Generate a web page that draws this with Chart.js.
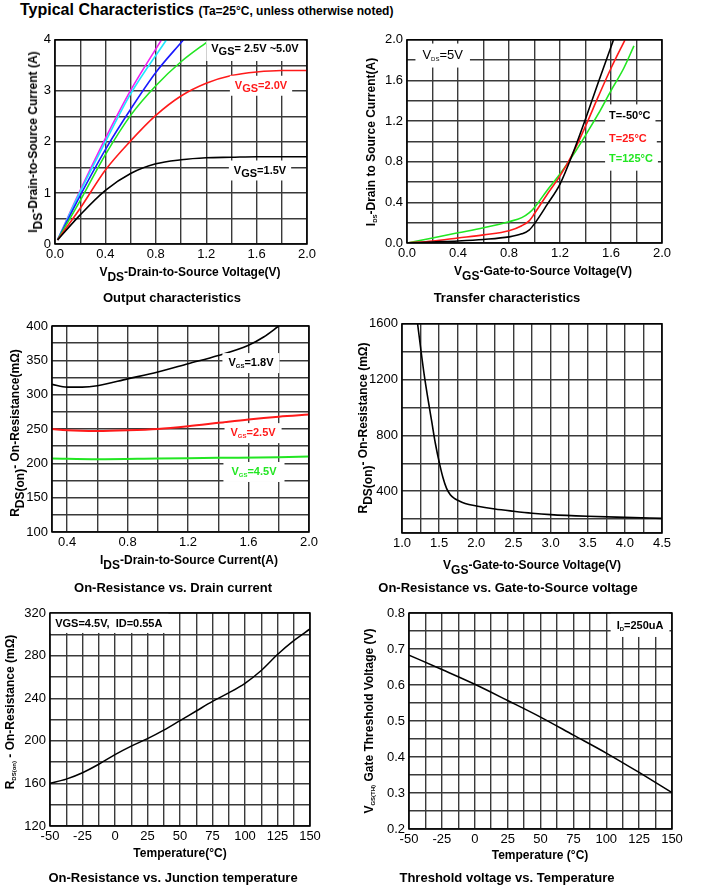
<!DOCTYPE html>
<html>
<head>
<meta charset="utf-8">
<script src="https://cdn.jsdelivr.net/npm/chart.js@4.4.1/dist/chart.umd.min.js"></script>
<style>
  body { margin: 0; background: #fff; width: 716px; height: 895px; position: relative; overflow: hidden;
         font-family: 'Liberation Sans', Arial, Helvetica, sans-serif; font-weight: bold; color: #000; }
  canvas { position: absolute; }
  .t { position: absolute; white-space: nowrap; transform: translate(-50%, -50%); font-size: 12px; line-height: 14px; }
  .cap { font-size: 13px; }
  .r { transform: translate(-50%, -50%) rotate(-90deg); }
  .L { font-size: 1em; vertical-align: -0.4em; line-height: 0; }
  .S { font-size: 0.5em; vertical-align: -0.3em; line-height: 0; }
  #head { position: absolute; left: 20px; top: 0; font-size: 16px; line-height: 19px; white-space: nowrap; }
  #head span { font-size: 12px; }
</style>
</head>
<body>
<div id="head">Typical Characteristics <span>(Ta=25°C, unless otherwise noted)</span></div>

<canvas id="c1"></canvas>
<canvas id="c2"></canvas>
<canvas id="c3"></canvas>
<canvas id="c4"></canvas>
<canvas id="c5"></canvas>
<canvas id="c6"></canvas>

<!-- axis titles and captions -->
<div class="t" style="left:190px;top:272px">V<span class="L">DS</span>-Drain-to-Source Voltage(V)</div>
<div class="t r" style="left:33px;top:142px">I<span class="L">DS</span>-Drain-to-Source Current (A)</div>
<div class="t cap" style="left:172px;top:298px">Output characteristics</div>

<div class="t" style="left:543px;top:271px">V<span class="L">GS</span>-Gate-to-Source Voltage(V)</div>
<div class="t r" style="left:371px;top:142px">I<span class="S">DS</span>-Drain to Source Current(A)</div>
<div class="t cap" style="left:507px;top:298px">Transfer characteristics</div>

<div class="t" style="left:189px;top:560px">I<span class="L">DS</span>-Drain-to-Source Current(A)</div>
<div class="t r" style="left:15px;top:433px">R<span class="L">DS(on)</span>- On-Resistance(mΩ)</div>
<div class="t cap" style="left:173px;top:588px">On-Resistance vs. Drain current</div>

<div class="t" style="left:532px;top:565px">V<span class="L">GS</span>-Gate-to-Source Voltage(V)</div>
<div class="t r" style="left:363px;top:428px">R<span class="L">DS(on)</span>- On-Resistance (mΩ)</div>
<div class="t cap" style="left:508px;top:588px">On-Resistance vs. Gate-to-Source voltage</div>

<div class="t" style="left:180px;top:853px">Temperature(°C)</div>
<div class="t r" style="left:10px;top:712px">R<span class="S">DS(on)</span> - On-Resistance (mΩ)</div>
<div class="t cap" style="left:173px;top:878px">On-Resistance vs. Junction temperature</div>

<div class="t" style="left:540px;top:855px">Temperature (°C)</div>
<div class="t r" style="left:369px;top:721px">V<span class="S">GS(TH)</span> Gate Threshold Voltage (V)</div>
<div class="t cap" style="left:507px;top:878px">Threshold voltage vs. Temperature</div>

<script>
// Output characteristics (ID vs VDS)
const outX15 = [0.02, 0.2, 0.4, 0.6, 0.8, 1.0, 1.2, 1.4, 1.6, 2.0];
const outY15 = [0.08, 0.57, 1.05, 1.38, 1.57, 1.65, 1.69, 1.70, 1.71, 1.71];
const outX20 = [0.02, 0.2, 0.4, 0.6, 0.8, 1.0, 1.2, 1.4, 1.6, 1.8, 2.0];
const outY20 = [0.08, 0.70, 1.45, 2.02, 2.52, 2.90, 3.15, 3.30, 3.37, 3.40, 3.40];
const outX25 = [0.02, 0.2, 0.4, 0.6, 0.8, 1.0, 1.23];
const outY25 = [0.08, 0.85, 1.75, 2.52, 3.10, 3.57, 4.0];
const outX30 = [0.02, 0.2, 0.4, 0.6, 0.8, 1.02];
const outY30 = [0.08, 0.95, 1.85, 2.64, 3.36, 4.0];
const outX40 = [0.02, 0.2, 0.4, 0.6, 0.885];
const outY40 = [0.08, 1.02, 2.0, 2.94, 4.0];
const outX50 = [0.02, 0.2, 0.4, 0.6, 0.845];
const outY50 = [0.08, 1.05, 2.07, 3.01, 4.0];
const outXTicks = [0, 0.2, 0.4, 0.6, 0.8, 1.0, 1.2, 1.4, 1.6, 1.8, 2.0];
const outXText  = ['0.0', '', '0.4', '', '0.8', '', '1.2', '', '1.6', '', '2.0'];
const outYTicks = [0, 0.5, 1, 1.5, 2, 2.5, 3, 3.5, 4];
const outYText  = ['0', '', '1', '', '2', '', '3', '', '4'];

// Transfer characteristics (ID vs VGS)
const trXm50 = [0, 0.2, 0.4, 0.6, 0.8, 0.9, 0.96, 1.0, 1.1, 1.2, 1.3, 1.4, 1.5, 1.62];
const trYm50 = [0, 0.01, 0.02, 0.035, 0.06, 0.09, 0.13, 0.19, 0.38, 0.58, 0.88, 1.22, 1.58, 2.0];
const trX25  = [0, 0.2, 0.4, 0.6, 0.8, 0.9, 0.96, 1.0, 1.1, 1.2, 1.3, 1.4, 1.5, 1.6, 1.71];
const trY25  = [0, 0.02, 0.05, 0.08, 0.12, 0.17, 0.22, 0.29, 0.48, 0.66, 0.88, 1.15, 1.44, 1.72, 2.0];
const trX125 = [0, 0.2, 0.4, 0.6, 0.8, 0.9, 0.96, 1.0, 1.1, 1.2, 1.3, 1.4, 1.5, 1.6, 1.7, 1.78];
const trY125 = [0, 0.05, 0.1, 0.15, 0.21, 0.25, 0.3, 0.35, 0.52, 0.68, 0.86, 1.06, 1.27, 1.5, 1.72, 1.94];
const trXTicks = [0, 0.2, 0.4, 0.6, 0.8, 1.0, 1.2, 1.4, 1.6, 1.8, 2.0];
const trXText  = ['0.0', '', '0.4', '', '0.8', '', '1.2', '', '1.6', '', '2.0'];
const trYTicks = [0, 0.2, 0.4, 0.6, 0.8, 1.0, 1.2, 1.4, 1.6, 1.8, 2.0];
const trYText  = ['0.0', '', '0.4', '', '0.8', '', '1.2', '', '1.6', '', '2.0'];

// On-resistance vs drain current
const riX18 = [0.3, 0.4, 0.5, 0.6, 0.8, 1.0, 1.2, 1.4, 1.6, 1.7, 1.8];
const riY18 = [315, 311, 311, 313, 323, 333, 345, 357, 372, 384, 400];
const riX25 = [0.3, 0.4, 0.6, 0.8, 1.0, 1.2, 1.4, 1.6, 1.8, 2.0];
const riY25 = [250, 248, 247, 248, 250, 254, 259, 264, 268, 271];
const riX45 = [0.3, 0.6, 1.0, 1.4, 1.8, 2.0];
const riY45 = [207, 206, 207, 208, 209, 210];
const riXTicks = [0.3, 0.4, 0.6, 0.8, 1.0, 1.2, 1.4, 1.6, 1.8, 2.0];
const riXText  = ['', '0.4', '', '0.8', '', '1.2', '', '1.6', '', '2.0'];
const riYTicks = [100, 125, 150, 175, 200, 225, 250, 275, 300, 325, 350, 375, 400];
const riYText  = ['100', '', '150', '', '200', '', '250', '', '300', '', '350', '', '400'];

// On-resistance vs gate-to-source voltage
const rvX = [1.21, 1.25, 1.3, 1.35, 1.4, 1.45, 1.5, 1.55, 1.6, 1.65, 1.7, 1.75, 1.85, 2.0, 2.25, 2.5, 2.75, 3.0, 3.5, 4.0, 4.5];
const rvY = [1600, 1430, 1230, 1060, 900, 740, 610, 500, 420, 375, 350, 335, 312, 294, 272, 256, 242, 232, 220, 212, 205];
const rvXTicks = [1.0, 1.25, 1.5, 1.75, 2.0, 2.25, 2.5, 2.75, 3.0, 3.25, 3.5, 3.75, 4.0, 4.25, 4.5];
const rvXText  = ['1.0', '', '1.5', '', '2.0', '', '2.5', '', '3.0', '', '3.5', '', '4.0', '', '4.5'];
const rvYTicks = [100, 200, 400, 600, 800, 1000, 1200, 1400, 1600];
const rvYText  = ['', '', '400', '', '800', '', '1200', '', '1600'];

// On-resistance vs junction temperature
const rtX = [-50, -37.5, -25, -12.5, 0, 12.5, 25, 37.5, 50, 62.5, 75, 87.5, 100, 112.5, 125, 137.5, 150];
const rtY = [160, 164, 170, 178, 187, 195, 202, 210, 219, 228, 237, 245, 254, 266, 281, 294, 305];
const tempTicks = [-50, -37.5, -25, -12.5, 0, 12.5, 25, 37.5, 50, 62.5, 75, 87.5, 100, 112.5, 125, 137.5, 150];
const tempText  = ['-50', '', '-25', '', '0', '', '25', '', '50', '', '75', '', '100', '', '125', '', '150'];
const rtYTicks = [120, 140, 160, 180, 200, 220, 240, 260, 280, 300, 320];
const rtYText  = ['120', '', '160', '', '200', '', '240', '', '280', '', '320'];

// Threshold voltage vs temperature
const vtX = [-50, -25, 0, 25, 50, 75, 100, 125, 150];
const vtY = [0.683, 0.643, 0.602, 0.557, 0.511, 0.461, 0.411, 0.357, 0.301];
const vtYTicks = [0.2, 0.25, 0.3, 0.35, 0.4, 0.45, 0.5, 0.55, 0.6, 0.65, 0.7, 0.75, 0.8];
const vtYText  = ['0.2', '', '0.3', '', '0.4', '', '0.5', '', '0.6', '', '0.7', '', '0.8'];

const FONT = "'Liberation Sans', Arial, Helvetica, sans-serif";
Chart.defaults.font.family = FONT;
Chart.defaults.font.size = 13;
Chart.defaults.color = '#000';

const MAGENTA = '#f020f0', CYAN = '#20e8ff', BLUE = '#1a1aff', GREEN = '#22e622', RED = '#ff1a1a', BLACK = '#000';

function curve(xs, ys, color, w) {
  return {
    data: xs.map((x, i) => ({ x: x, y: ys[i] })),
    borderColor: color, borderWidth: w || 1.6,
    pointRadius: 0, showLine: true, fill: false,
    cubicInterpolationMode: 'monotone'
  };
}

// labels with white boxes, placed in data units, plus the black frame
const notesPlugin = {
  id: 'notes',
  afterDatasetsDraw(chart, args, opts) {
    const ctx = chart.ctx, a = chart.chartArea;
    const xs = chart.scales.x, ys = chart.scales.y;
    ctx.save();
    ctx.beginPath();
    ctx.rect(a.left, a.top, a.right - a.left, a.bottom - a.top);
    ctx.clip();
    (opts.items || []).forEach(n => {
      const px = xs.getPixelForValue(n.x), py = ys.getPixelForValue(n.y);
      const segs = n.parts.map(p => {
        const sub = p[1] === 1;
        const f = (n.weight || 'bold') + ' ' + (sub ? n.sub : n.size) + 'px ' + FONT;
        ctx.font = f;
        return { t: p[0], f: f, w: ctx.measureText(p[0]).width, dy: sub ? n.dy : 0 };
      });
      const w = segs.reduce((s, g) => s + g.w, 0);
      const x0 = n.align === 'left' ? px : px - w / 2;
      const b = n.box || [5, 5, 10, 10];
      ctx.fillStyle = '#fff';
      ctx.fillRect(x0 - b[0], py - b[2], w + b[0] + b[1], b[2] + b[3]);
      ctx.fillStyle = n.color || '#000';
      ctx.textBaseline = 'middle';
      ctx.textAlign = 'left';
      let x = x0;
      segs.forEach(g => {
        ctx.font = g.f;
        ctx.fillText(g.t, x, py + g.dy);
        x += g.w;
      });
    });
    ctx.restore();
    ctx.save();
    ctx.strokeStyle = '#000';
    ctx.lineWidth = 1.5;
    ctx.strokeRect(a.left, a.top, a.right - a.left, a.bottom - a.top);
    ctx.restore();
  }
};

function scaleCfg(vals, text, dir, size, pad) {
  return {
    type: 'linear',
    min: vals[0], max: vals[vals.length - 1],
    afterBuildTicks: s => { s.ticks = vals.map(v => ({ value: v })); },
    afterFit: s => { if (dir === 'x') s.height = size; else s.width = size; },
    ticks: {
      autoSkip: false, maxRotation: 0, padding: pad, color: '#000',
      font: { size: 13 },
      callback: (v, i) => text[i]
    },
    grid: { color: '#3a3a3a', lineWidth: 1.4, drawTicks: false },
    border: { display: false }
  };
}

function makeChart(id, box, area, xv, xt, yv, yt, datasets, notes) {
  const cv = document.getElementById(id);
  cv.style.left = box[0] + 'px';
  cv.style.top = box[1] + 'px';
  cv.width = box[2];
  cv.height = box[3];
  cv.style.width = box[2] + 'px';
  cv.style.height = box[3] + 'px';
  return new Chart(cv, {
    type: 'scatter',
    data: { datasets: datasets },
    options: {
      responsive: false,
      animation: false,
      layout: { padding: { left: 0, top: area[1] - box[1], right: box[0] + box[2] - area[2], bottom: 0 } },
      plugins: { legend: { display: false }, tooltip: { enabled: false }, notes: { items: notes } },
      scales: {
        x: scaleCfg(xv, xt, 'x', box[1] + box[3] - area[3], 3),
        y: scaleCfg(yv, yt, 'y', area[0] - box[0], 4)
      }
    },
    plugins: [notesPlugin]
  });
}

makeChart('c1', [0, 28, 350, 282], [55, 39, 307, 244], outXTicks, outXText, outYTicks, outYText, [
  curve(outX15, outY15, BLACK), curve(outX20, outY20, RED), curve(outX25, outY25, GREEN),
  curve(outX30, outY30, BLUE), curve(outX40, outY40, CYAN), curve(outX50, outY50, MAGENTA)
], [
  { x: 1.587, y: 3.82, parts: [['V', 0], ['GS', 1], ['= 2.5V ~5.0V', 0]], size: 11, sub: 11, dy: 3, box: [5, 6, 12, 12] },
  { x: 1.635, y: 3.10, parts: [['V', 0], ['GS', 1], ['=2.0V', 0]], size: 11, sub: 11, dy: 3, color: RED, box: [5, 5, 10, 10] },
  { x: 1.627, y: 1.44, parts: [['V', 0], ['GS', 1], ['=1.5V', 0]], size: 11, sub: 11, dy: 3, box: [5, 5, 10, 10] }
]);

makeChart('c2', [355, 28, 361, 282], [407, 36, 662, 243], trXTicks, trXText, trYTicks, trYText, [
  curve(trXm50, trYm50, BLACK), curve(trX25, trY25, RED), curve(trX125, trY125, GREEN)
], [
  { x: 0.28, y: 1.845, parts: [['V', 0], ['DS', 1], ['=5V', 0]], size: 13, sub: 6, dy: 4, weight: 'normal', box: [7, 7, 12, 12] },
  { x: 1.585, y: 1.246, align: 'left', parts: [['T=-50°C', 0]], size: 11, sub: 6, dy: 0, box: [4, 5, 12, 12] },
  { x: 1.585, y: 1.024, align: 'left', parts: [['T=25°C', 0]], size: 11, sub: 6, dy: 0, color: RED, box: [4, 10, 12, 12] },
  { x: 1.585, y: 0.83, align: 'left', parts: [['T=125°C', 0]], size: 11, sub: 6, dy: 0, color: GREEN, box: [4, 5, 12, 12] }
]);

makeChart('c3', [0, 312, 350, 285], [52, 326, 309, 532], riXTicks, riXText, riYTicks, riYText, [
  curve(riX18, riY18, BLACK), curve(riX25, riY25, RED, 2), curve(riX45, riY45, GREEN, 2)
], [
  { x: 1.616, y: 346, parts: [['V', 0], ['GS', 1], ['=1.8V', 0]], size: 11, sub: 6, dy: 3, box: [6, 6, 10, 10] },
  { x: 1.63, y: 244, parts: [['V', 0], ['GS', 1], ['=2.5V', 0]], size: 11, sub: 6, dy: 3, color: RED, box: [6, 6, 10, 10] },
  { x: 1.636, y: 187.4, parts: [['V', 0], ['GS', 1], ['=4.5V', 0]], size: 11, sub: 6, dy: 3, color: GREEN, box: [8, 8, 10, 10] }
]);

makeChart('c4', [355, 312, 361, 285], [402, 322, 662, 533], rvXTicks, rvXText, rvYTicks, rvYText, [
  curve(rvX, rvY, BLACK, 1.6)
], []);

makeChart('c5', [0, 600, 350, 295], [50, 613, 310, 826], tempTicks, tempText, rtYTicks, rtYText, [
  curve(rtX, rtY, BLACK, 1.5)
], [
  { x: -46, y: 309.7, align: 'left', parts: [['VGS=4.5V,  ID=0.55A', 0]], size: 11, sub: 6, dy: 0, box: [6, 6, 12, 9] }
]);

makeChart('c6', [355, 600, 361, 295], [409, 613, 672, 829], tempTicks, tempText, vtYTicks, vtYText, [
  curve(vtX, vtY, BLACK, 1.5)
], [
  { x: 125.7, y: 0.764, parts: [['I', 0], ['D', 1], ['=250uA', 0]], size: 11, sub: 6, dy: 3, box: [6, 6, 13, 11] }
]);
</script>
</body>
</html>
